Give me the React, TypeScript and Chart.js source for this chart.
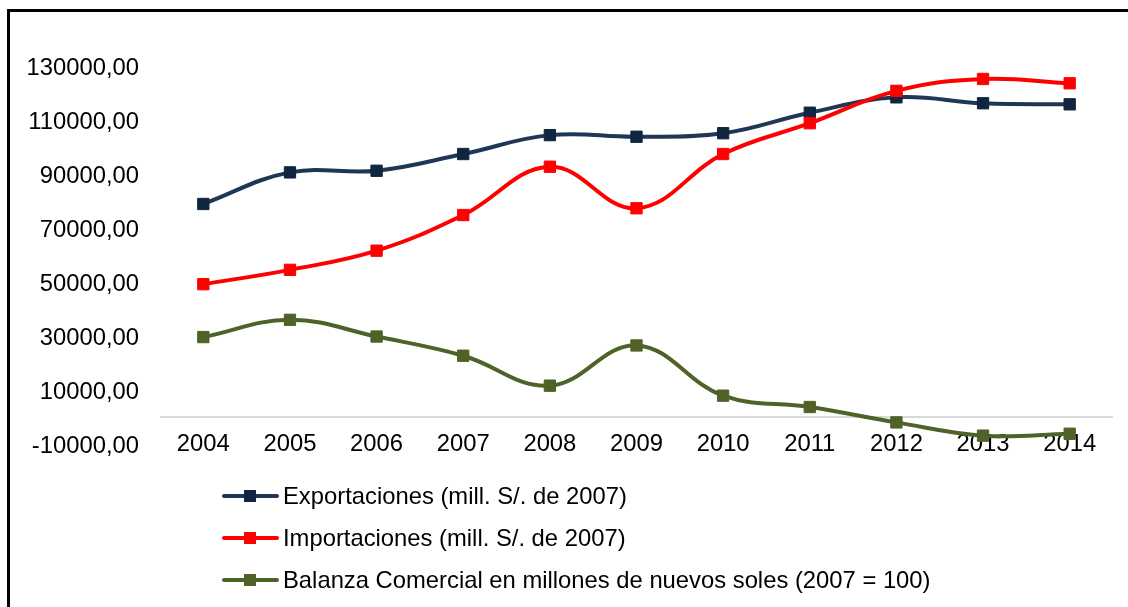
import React, { useEffect, useRef } from "react";
import { Chart, registerables } from "chart.js";

Chart.register(...registerables);

const years = ["2004", "2005", "2006", "2007", "2008", "2009", "2010", "2011", "2012", "2013", "2014"];
const exportaciones = [78900, 90600, 91200, 97400, 104400, 103800, 105100, 112700, 118400, 116200, 115800];
const importaciones = [49200, 54500, 61600, 74800, 92700, 77300, 97400, 108800, 120800, 125200, 123600];
const balanza = [29600, 36000, 29800, 22700, 11600, 26500, 7900, 3700, -2000, -6900, -6200];
const yTicks = [-10000, 10000, 30000, 50000, 70000, 90000, 110000, 130000];
const seriesLabels = [
  "Exportaciones (mill. S/. de 2007)",
  "Importaciones (mill. S/. de 2007)",
  "Balanza Comercial en millones de nuevos soles (2007 = 100)",
];

const FONT = "'Liberation Sans', Arial, sans-serif";
const FONT_SIZE = 23.8;

const framePlugin = {
  id: "frameAndExtras",
  beforeDatasetsDraw(chart: any) {
    const { ctx, chartArea, scales } = chart;
    const y0 = scales.y.getPixelForValue(0);
    ctx.save();
    ctx.strokeStyle = "#d9d9d9";
    ctx.lineWidth = 2;
    ctx.beginPath();
    ctx.moveTo(chartArea.left, y0);
    ctx.lineTo(chartArea.right, y0);
    ctx.stroke();
    ctx.restore();
  },
  afterDraw(chart: any) {
    const { ctx } = chart;
    ctx.save();
    ctx.fillStyle = "#000";
    ctx.fillRect(7, 9, 1121, 3);
    ctx.fillRect(7, 9, 3, 598);
    // legend
    const rows = [496, 538, 580];
    chart.data.datasets.forEach((ds: any, i: number) => {
      const y = rows[i];
      ctx.strokeStyle = ds.borderColor;
      ctx.lineWidth = 4;
      ctx.lineCap = "round";
      ctx.beginPath();
      ctx.moveTo(224, y);
      ctx.lineTo(277, y);
      ctx.stroke();
      ctx.fillStyle = ds.pointBackgroundColor;
      ctx.fillRect(244, y - 6, 12, 12);
      ctx.fillStyle = "#000";
      ctx.font = `${FONT_SIZE}px ${FONT}`;
      ctx.textBaseline = "middle";
      ctx.textAlign = "left";
      ctx.fillText(ds.label, 283, y + 1);
    });
    ctx.restore();
  },
};

export default function App() {
  const ref = useRef<HTMLCanvasElement | null>(null);
  useEffect(() => {
    if (!ref.current) return;
    const mk = (label: string, data: number[], line: string, marker: string, order: number) => ({
      label,
      data,
      borderColor: line,
      backgroundColor: marker,
      pointBackgroundColor: marker,
      pointBorderColor: marker,
      pointBorderWidth: 1,
      pointStyle: "rect",
      pointRadius: 8,
      borderWidth: 4,
      tension: 0.4,
      fill: false,
      order,
    });
    const chart = new Chart(ref.current, {
      type: "line",
      data: {
        labels: years,
        datasets: [
          mk(seriesLabels[0], exportaciones, "#1f3656", "#10253f", 1),
          mk(seriesLabels[1], importaciones, "#ff0000", "#ff0000", 0),
          mk(seriesLabels[2], balanza, "#4f6228", "#4f6228", 2),
        ],
      },
      options: {
        animation: false,
        responsive: false,
        layout: { padding: { left: 0, right: 15, top: 66, bottom: 143 } },
        plugins: { legend: { display: false }, tooltip: { enabled: false } },
        scales: {
          x: {
            offset: true,
            grid: { display: false, drawTicks: false },
            border: { display: false },
            ticks: {
              color: "#000",
              font: { family: FONT, size: FONT_SIZE },
              mirror: true,
              padding: -15,
              maxRotation: 0,
              autoSkip: false,
            },
            afterFit: (s: any) => {
              s.height = 20;
            },
          },
          y: {
            min: -10000,
            max: 130000,
            grid: { display: false, drawTicks: false },
            border: { display: false },
            afterBuildTicks: (s: any) => {
              s.ticks = yTicks.map((v) => ({ value: v }));
            },
            ticks: {
              color: "#000",
              font: { family: FONT, size: FONT_SIZE },
              padding: 21,
              labelOffset: 2,
              callback: (v: any) => Number(v).toFixed(2).replace(".", ","),
            },
            afterFit: (s: any) => {
              s.width = 160;
            },
          },
        },
      },
      plugins: [framePlugin],
    });
    return () => chart.destroy();
  }, []);
  return (
    <div style={{ position: "absolute", left: 0, top: 0, width: 1128, height: 607, background: "#fff" }}>
      <canvas ref={ref} width={1128} height={607} />
    </div>
  );
}
